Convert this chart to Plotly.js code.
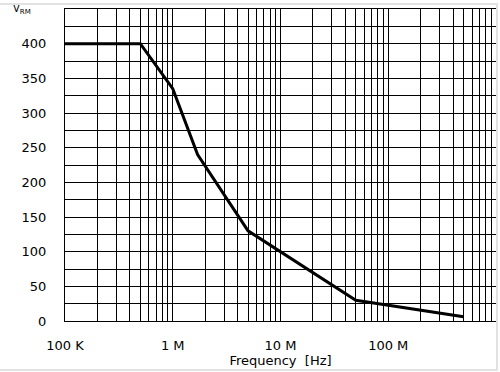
<!DOCTYPE html>
<html>
<head>
<meta charset="utf-8">
<script src="https://cdn.plot.ly/plotly-3.0.1.min.js"></script>
<style>
html,body{margin:0;padding:0;background:#fff;}
#chart{width:500px;height:372px;position:absolute;left:0;top:0;}
#frame{position:absolute;left:-4px;top:3px;width:500px;height:364px;border-top:2px solid #e2e2e2;border-bottom:2px solid #e2e2e2;border-right:2px solid #e2e2e2;pointer-events:none;}
</style>
</head>
<body>
<div id="chart"></div>
<div id="frame"></div>
<script>
// Data
var frequencyHz = [1e5, 5e5, 1e6, 1.7e6, 5e6, 5e7, 5e8];
var voltage     = [400, 400, 335, 240, 130, 30, 6];

// Axis ticks
var decades = [1e5, 1e6, 1e7, 1e8];
var decadeLabels = ["100 K", "1 M", "10 M", "100 M"];
var yTickValues = [0, 50, 100, 150, 200, 250, 300, 350, 400];
var yTickLabels = ["0", "50", "100", "150", "200", "250", "300", "350", "400"];

var font = {family: "DejaVu Sans", size: 13, color: "#000"};

var trace = {
  x: frequencyHz,
  y: voltage,
  type: "scatter",
  mode: "lines",
  line: {color: "#000", width: 3},
  hoverinfo: "skip"
};

var layout = {
  width: 500,
  height: 372,
  margin: {l: 65, r: 4, t: 9, b: 51},
  paper_bgcolor: "#fff",
  plot_bgcolor: "#fff",
  showlegend: false,
  font: font,
  xaxis: {
    type: "log",
    range: [5, 9],
    tickvals: decades,
    ticktext: decadeLabels,
    tickangle: 0,
    ticks: "outside",
    ticklen: 12,
    tickcolor: "rgba(0,0,0,0)",
    showgrid: true,
    gridcolor: "#000",
    gridwidth: 1,
    minor: {dtick: "D1", showgrid: true, gridcolor: "#000", gridwidth: 1, ticks: ""},
    showline: true,
    linecolor: "#000",
    linewidth: 1,
    mirror: true,
    zeroline: false,
    tickfont: font,
    title: {text: "Frequency  [Hz]", font: font, standoff: 3}
  },
  yaxis: {
    range: [0, 450],
    tickvals: yTickValues,
    ticktext: yTickLabels,
    ticks: "outside",
    ticklen: 15,
    tickcolor: "rgba(0,0,0,0)",
    showgrid: true,
    gridcolor: "#000",
    gridwidth: 1,
    minor: {dtick: 25, showgrid: true, gridcolor: "#000", gridwidth: 1, ticks: ""},
    showline: true,
    linecolor: "#000",
    linewidth: 1,
    mirror: true,
    zeroline: false,
    tickfont: font
  },
  annotations: [{
    text: "V<sub>RM</sub>",
    xref: "paper", yref: "paper",
    x: -0.125, y: 1.027,
    xanchor: "left", yanchor: "top",
    showarrow: false,
    font: {family: "DejaVu Sans", size: 10, color: "#000"}
  }]
};

Plotly.newPlot("chart", [trace], layout, {displayModeBar: false, staticPlot: true});
</script>
</body>
</html>
